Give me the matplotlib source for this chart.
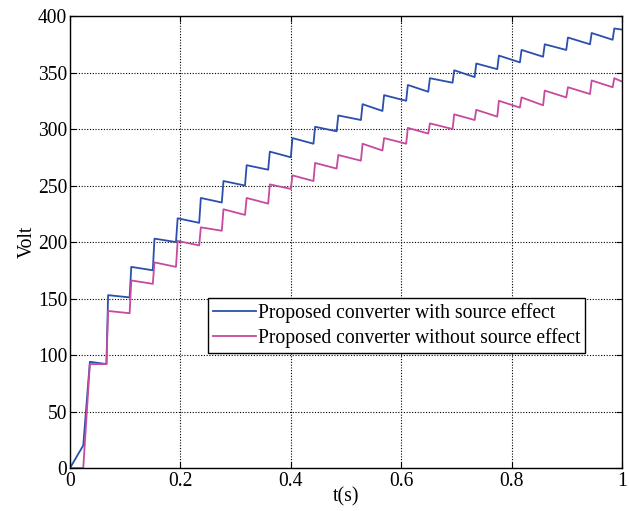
import numpy as np
import matplotlib
matplotlib.use("Agg")
import matplotlib.pyplot as plt

# step instants (s)
step_t = [0.024, 0.066, 0.108, 0.150, 0.192, 0.234, 0.275, 0.317, 0.359, 0.400,
          0.441, 0.483, 0.527, 0.566, 0.609, 0.649, 0.693, 0.733, 0.774, 0.815,
          0.857, 0.899, 0.942, 0.983]

# with source effect: level right after each step / right before the next one
with_peak = [94, 153, 178, 203, 221, 239, 254, 268, 280, 292, 302, 312,
             322, 330, 339, 345, 352, 358, 365, 370, 375, 381, 385, 389]
with_trough = [92, 151, 175, 200, 217, 235, 250, 264, 275, 287, 298, 308,
               316, 325, 333, 341, 346, 353, 359, 364, 370, 375, 379, 388]
with_start = 20  # small pre-charge before the first step

# without source effect
wo_peak = [92, 139, 166, 182, 201, 213, 229, 239, 251, 259, 270, 277,
           287, 292, 301, 305, 313, 317, 325, 328, 334, 337, 343, 345]
wo_trough = [92, 137, 163, 178, 197, 210, 224, 234, 247, 254, 265, 272,
             281, 287, 296, 300, 308, 311, 319, 321, 328, 331, 337, 342]
wo_start = 0

labels = ["Proposed converter with source effect",
          "Proposed converter without source effect"]
colors = ["#2a4fae", "#c64a9f"]


def build(start, peaks, troughs, t_end=1.0):
    t = [0.0, step_t[0]]
    v = [0.0, start]
    for i, ts in enumerate(step_t):
        rise = 0.012 if i == 0 else 0.003
        t.append(ts + rise)
        v.append(peaks[i])
        nxt = step_t[i + 1] if i + 1 < len(step_t) else t_end
        t.append(nxt)
        v.append(troughs[i])
    return np.array(t), np.array(v)


plt.rcParams['font.family'] = ['Liberation Serif', 'DejaVu Serif']
plt.rcParams['font.size'] = 14.1

fig = plt.figure(figsize=(6.29, 5.11), dpi=100)
ax = fig.add_axes([0.1113, 0.0841, 0.8776, 0.8845])

t1, v1 = build(with_start, with_peak, with_trough)
t2, v2 = build(wo_start, wo_peak, wo_trough)
ax.plot(t1, v1, color=colors[0], lw=1.3, label=labels[0])
ax.plot(t2, v2, color=colors[1], lw=1.3, label=labels[1])

ax.set_xlim(0, 1)
ax.set_ylim(0, 400)
ax.set_xticks([0, 0.2, 0.4, 0.6, 0.8, 1])
ax.set_xticklabels(["0", "0.2", "0.4", "0.6", "0.8", "1"])
ax.set_yticks(np.arange(0, 401, 50))
ax.tick_params(direction='in', top=True, right=True, length=4)
ax.tick_params(axis='x', pad=3)
ax.tick_params(axis='y', pad=2)
ax.grid(True, color='black', linestyle=(0, (1, 1.5)), linewidth=0.8)
for s in ax.spines.values():
    s.set_linewidth(1.0)

ax.set_xlabel("t(s)", labelpad=-3)
ax.set_ylabel("Volt", labelpad=1)

leg = ax.legend(loc='lower left', bbox_to_anchor=(0.25, 0.254), fancybox=False,
                edgecolor='black', framealpha=1, borderpad=0.25,
                handlelength=2.2, handletextpad=0.1, labelspacing=0.3,
                borderaxespad=0)
leg.get_frame().set_linewidth(1.0)

fig.savefig("out.png", dpi=100)
